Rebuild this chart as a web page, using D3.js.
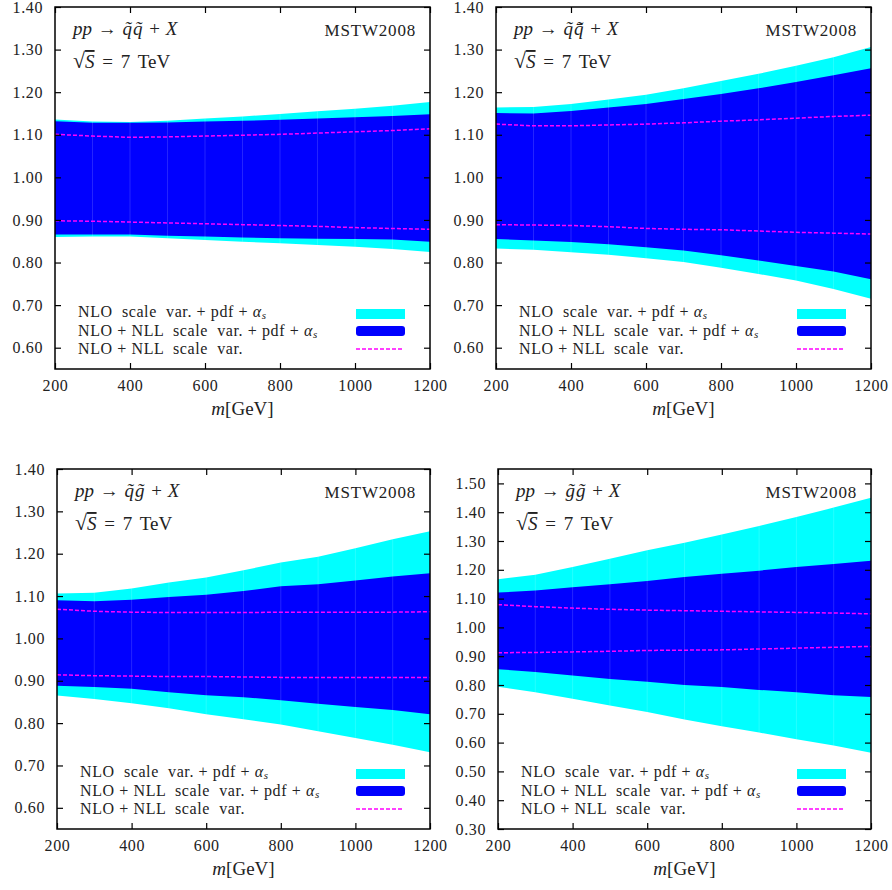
<!DOCTYPE html>
<html>
<head>
<meta charset="utf-8">
<script src="https://cdn.jsdelivr.net/npm/d3@7"></script>
<style>
  body { margin: 0; background: #fff; }
  text { font-family: "Liberation Serif", serif; fill: #222; }
</style>
</head>
<body>
<div id="chart"></div>
<script>
// masses in GeV
const mass = [200, 300, 400, 500, 600, 700, 800, 900, 1000, 1100, 1200];
const xTicks = [200, 400, 600, 800, 1000, 1200];

// K-factor style ratios
// pp -> sq sq
const qqNloHi   = [1.136, 1.131, 1.130, 1.133, 1.138, 1.143, 1.149, 1.155, 1.161, 1.168, 1.177];
const qqNllHi   = [1.132, 1.128, 1.128, 1.129, 1.131, 1.133, 1.135, 1.138, 1.141, 1.144, 1.148];
const qqScaleHi = [1.101, 1.097, 1.094, 1.095, 1.097, 1.099, 1.101, 1.104, 1.107, 1.110, 1.114];
const qqScaleLo = [0.898, 0.897, 0.895, 0.893, 0.891, 0.889, 0.887, 0.885, 0.882, 0.880, 0.878];
const qqNllLo   = [0.866, 0.866, 0.866, 0.863, 0.861, 0.859, 0.857, 0.856, 0.855, 0.854, 0.849];
const qqNloLo   = [0.860, 0.861, 0.861, 0.857, 0.853, 0.849, 0.845, 0.841, 0.837, 0.832, 0.825];

// pp -> sq sqbar
const qqbNloHi   = [1.164, 1.165, 1.172, 1.183, 1.194, 1.209, 1.226, 1.243, 1.262, 1.282, 1.306];
const qqbNllHi   = [1.151, 1.150, 1.156, 1.164, 1.172, 1.184, 1.196, 1.209, 1.224, 1.240, 1.256];
const qqbScaleHi = [1.125, 1.121, 1.121, 1.123, 1.125, 1.128, 1.132, 1.135, 1.139, 1.143, 1.146];
const qqbScaleLo = [0.889, 0.888, 0.887, 0.884, 0.880, 0.878, 0.877, 0.874, 0.871, 0.869, 0.867];
const qqbNllLo   = [0.855, 0.852, 0.848, 0.843, 0.836, 0.828, 0.817, 0.805, 0.792, 0.779, 0.761];
const qqbNloLo   = [0.833, 0.830, 0.824, 0.818, 0.810, 0.801, 0.788, 0.773, 0.758, 0.738, 0.715];

// pp -> sq gluino
const qgNloHi   = [1.106, 1.108, 1.118, 1.132, 1.144, 1.161, 1.179, 1.193, 1.213, 1.234, 1.253];
const qgNllHi   = [1.090, 1.088, 1.091, 1.098, 1.103, 1.112, 1.123, 1.128, 1.137, 1.146, 1.154];
const qgScaleHi = [1.069, 1.064, 1.062, 1.061, 1.061, 1.061, 1.062, 1.062, 1.062, 1.062, 1.063];
const qgScaleLo = [0.914, 0.912, 0.911, 0.910, 0.910, 0.909, 0.908, 0.908, 0.908, 0.908, 0.908];
const qgNllLo   = [0.888, 0.885, 0.881, 0.873, 0.866, 0.861, 0.854, 0.846, 0.838, 0.831, 0.821];
const qgNloLo   = [0.865, 0.857, 0.847, 0.835, 0.821, 0.809, 0.797, 0.781, 0.765, 0.749, 0.731];

// pp -> gluino gluino
const ggNloHi   = [1.167, 1.183, 1.210, 1.238, 1.268, 1.294, 1.323, 1.352, 1.383, 1.416, 1.450];
const ggNllHi   = [1.121, 1.128, 1.139, 1.150, 1.161, 1.175, 1.186, 1.197, 1.210, 1.220, 1.231];
const ggScaleHi = [1.079, 1.072, 1.067, 1.063, 1.060, 1.058, 1.056, 1.054, 1.052, 1.050, 1.047];
const ggScaleLo = [0.912, 0.913, 0.915, 0.917, 0.920, 0.921, 0.922, 0.925, 0.928, 0.931, 0.934];
const ggNllLo   = [0.855, 0.845, 0.833, 0.821, 0.811, 0.800, 0.793, 0.783, 0.775, 0.764, 0.758];
const ggNloLo   = [0.794, 0.775, 0.752, 0.729, 0.706, 0.680, 0.657, 0.635, 0.612, 0.590, 0.565];

const yTicksA = [0.6, 0.7, 0.8, 0.9, 1.0, 1.1, 1.2, 1.3, 1.4];
const yTicksB = [0.3, 0.4, 0.5, 0.6, 0.7, 0.8, 0.9, 1.0, 1.1, 1.2, 1.3, 1.4, 1.5];

const legendLabels = ["NLO  scale  var. + pdf + ", "NLO + NLL  scale  var. + pdf + ", "NLO + NLL  scale  var."];

const panels = [
    { left: 55, top: 7, width: 375, height: 362, yDomain: [0.55, 1.40], yTicks: yTicksA, proc: "q\u0303q\u0303",
      nloHi: qqNloHi, nloLo: qqNloLo, nllHi: qqNllHi, nllLo: qqNllLo, scaleHi: qqScaleHi, scaleLo: qqScaleLo },
    { left: 496, top: 7, width: 375, height: 362, yDomain: [0.55, 1.40], yTicks: yTicksA, proc: "q\u0303q\u0304\u0303",
      nloHi: qqbNloHi, nloLo: qqbNloLo, nllHi: qqbNllHi, nllLo: qqbNllLo, scaleHi: qqbScaleHi, scaleLo: qqbScaleLo },
    { left: 57, top: 469, width: 373, height: 360, yDomain: [0.55, 1.40], yTicks: yTicksA, proc: "q\u0303g\u0303",
      nloHi: qgNloHi, nloLo: qgNloLo, nllHi: qgNllHi, nllLo: qgNllLo, scaleHi: qgScaleHi, scaleLo: qgScaleLo },
    { left: 498, top: 469, width: 373, height: 360, yDomain: [0.30, 1.55], yTicks: yTicksB, proc: "g\u0303g\u0303",
      nloHi: ggNloHi, nloLo: ggNloLo, nllHi: ggNllHi, nllLo: ggNllLo, scaleHi: ggScaleHi, scaleLo: ggScaleLo }
];

const svg = d3.select("#chart").append("svg")
    .attr("width", 892)
    .attr("height", 890);

function drawPanel(p, k) {
    const g = svg.append("g").attr("transform", "translate(" + p.left + "," + p.top + ")");
    const x = d3.scaleLinear().domain([200, 1200]).range([0, p.width]);
    const y = d3.scaleLinear().domain(p.yDomain).range([p.height, 0]);

    g.append("clipPath").attr("id", "clip" + k)
        .append("rect").attr("width", p.width).attr("height", p.height);
    const plot = g.append("g").attr("clip-path", "url(#clip" + k + ")");

    const band = (lo, hi) => d3.area()
        .x((d, i) => x(mass[i]))
        .y0((d, i) => y(lo[i]))
        .y1((d, i) => y(hi[i]));

    plot.append("path").datum(mass)
        .attr("d", band(p.nloLo, p.nloHi))
        .attr("fill", "#00ffff");
    plot.append("path").datum(mass)
        .attr("d", band(p.nllLo, p.nllHi))
        .attr("fill", "#0000ff");

    // faint seams between the polygon pieces
    plot.selectAll(".seam").data(mass.slice(1, -1))
        .enter().append("line")
        .attr("x1", d => x(d)).attr("x2", d => x(d))
        .attr("y1", (d, i) => y(p.nloLo[i + 1]))
        .attr("y2", (d, i) => y(p.nloHi[i + 1]))
        .attr("stroke", "#fff").attr("stroke-opacity", 0.18).attr("stroke-width", 0.8);

    const line = vals => d3.line().x((d, i) => x(mass[i])).y((d, i) => y(vals[i]));
    [p.scaleHi, p.scaleLo].forEach(vals => {
        plot.append("path").datum(mass)
            .attr("d", line(vals))
            .attr("fill", "none")
            .attr("stroke", "#ff00ff")
            .attr("stroke-width", 1.5)
            .attr("stroke-dasharray", "4,2");
    });

    // axes, ticks pointing inward on all sides
    const fmt = d3.format(".2f");
    const ax = g.append("g").attr("transform", "translate(0," + p.height + ")")
        .call(d3.axisBottom(x).tickValues(xTicks).tickSize(-6).tickPadding(11).tickFormat(d3.format("d")));
    g.append("g").call(d3.axisTop(x).tickValues(xTicks).tickSize(-6).tickFormat(""));
    const ay = g.append("g").call(d3.axisLeft(y).tickValues(p.yTicks).tickSize(-6).tickPadding(12).tickFormat(fmt));
    g.append("g").attr("transform", "translate(" + p.width + ",0)")
        .call(d3.axisRight(y).tickValues(p.yTicks).tickSize(-6).tickFormat(""));
    g.selectAll(".domain").remove();
    g.selectAll(".tick line").attr("stroke", "#000").attr("stroke-width", 1.2);
    [ax, ay].forEach(a => a.selectAll("text")
        .attr("font-family", null)
        .style("font-family", "'Liberation Serif', serif")
        .style("font-size", "16px")
        .style("letter-spacing", "0.6px")
        .attr("fill", "#333"));

    g.append("rect")
        .attr("width", p.width).attr("height", p.height)
        .attr("fill", "none").attr("stroke", "#000").attr("stroke-width", 1.5);

    // x title
    const xt = g.append("text")
        .attr("x", p.width / 2).attr("y", p.height + 46)
        .attr("text-anchor", "middle")
        .style("font-size", "19px");
    xt.append("tspan").style("font-style", "italic").text("m");
    xt.append("tspan").text("[GeV]");

    // process label
    const t1 = g.append("text").attr("x", 18).attr("y", 28)
        .style("font-size", "19px").style("white-space", "pre").style("word-spacing", "1px");
    t1.append("tspan").style("font-style", "italic").text("pp");
    t1.append("tspan").text(" \u2192 ");
    t1.append("tspan").style("font-style", "italic").style("letter-spacing", "1px").text(p.proc);
    t1.append("tspan").text(" + ");
    t1.append("tspan").style("font-style", "italic").text("X");

    const t2 = g.append("text").attr("x", 18).attr("y", 61)
        .style("font-size", "19px").style("white-space", "pre").style("word-spacing", "3px");
    t2.append("tspan").style("font-size", "22px").text("\u221A");
    t2.append("tspan").style("font-style", "italic").style("text-decoration", "overline").text("S");
    t2.append("tspan").text(" = 7 TeV");

    g.append("text")
        .attr("x", p.width - 14).attr("y", 29)
        .attr("text-anchor", "end")
        .style("font-size", "17px")
        .style("letter-spacing", "0.8px")
        .text("MSTW2008");

    // legend
    const lg = g.append("g").attr("transform", "translate(23," + (p.height - 52) + ")");
    legendLabels.forEach((lab, i) => {
        const t = lg.append("text").attr("x", 0).attr("y", i * 18.5)
            .style("font-size", "16px").style("letter-spacing", "0.6px").style("white-space", "pre");
        t.append("tspan").text(lab);
        if (i < 2) {
            t.append("tspan").style("font-style", "italic").text("\u03B1");
            t.append("tspan").style("font-style", "italic").style("font-size", "11px").attr("dy", 2).text("s");
        }
    });
    const sx = p.width - 97;
    lg.append("rect").attr("x", sx).attr("y", -8).attr("width", 49).attr("height", 10)
        .attr("fill", "#00ffff");
    lg.append("rect").attr("x", sx).attr("y", 9).attr("width", 49).attr("height", 10)
        .attr("rx", 3).attr("fill", "#0000ff");
    lg.append("line").attr("x1", sx).attr("x2", sx + 48).attr("y1", 32).attr("y2", 32)
        .attr("stroke", "#ff00ff").attr("stroke-width", 1.5).attr("stroke-dasharray", "4,2");
}

panels.forEach(drawPanel);
</script>
</body>
</html>
